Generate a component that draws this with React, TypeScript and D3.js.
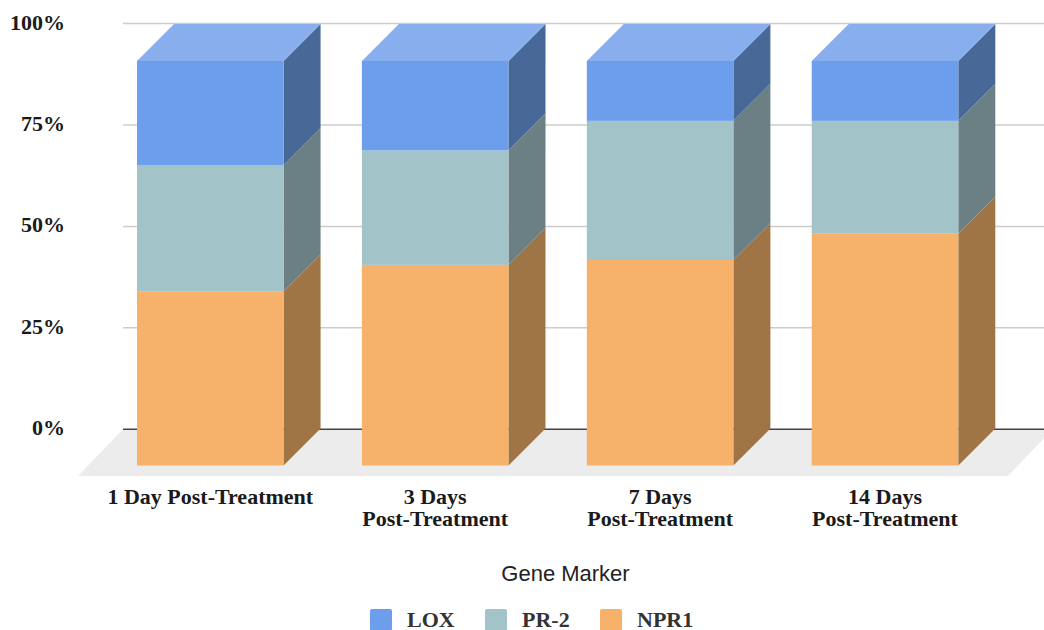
import React from "react";
import * as d3 from "d3";

const categories = [
  ["1 Day Post-Treatment"],
  ["3 Days", "Post-Treatment"],
  ["7 Days", "Post-Treatment"],
  ["14 Days", "Post-Treatment"],
];
const seriesNames = ["NPR1", "PR-2", "LOX"];
const NPR1 = [43.1, 49.6, 50.8, 57.3];
const PR2 = [31.2, 28.3, 34.4, 27.9];
const LOX = [25.7, 22.1, 14.8, 14.8];
const yTicks = [0, 25, 50, 75, 100];
const legendOrder = ["LOX", "PR-2", "NPR1"];

const front: Record<string, string> = { LOX: "#6d9eeb", "PR-2": "#a2c4c9", NPR1: "#f6b26b" };
const side: Record<string, string> = { LOX: "#486898", "PR-2": "#6a8084", NPR1: "#a07546" };
const topColor = "#89aeee";
const serif = "'Liberation Serif', serif";
const sans = "'Liberation Sans', sans-serif";
const depth = 37;

export default function App() {
  const y = d3.scaleLinear().domain([0, 100]).range([465.5, 61]);
  const yBack = d3.scaleLinear().domain([0, 100]).range([429.3, 23.5]);
  const x = d3
    .scaleBand<number>()
    .domain(d3.range(categories.length))
    .range([137, 958.3])
    .paddingInner(78.3 / 224.8)
    .paddingOuter(0);
  const rows = categories.map((_, i) => ({ NPR1: NPR1[i], "PR-2": PR2[i], LOX: LOX[i] }));
  const stacked = d3.stack<any>().keys(seriesNames)(rows);
  const bw = x.bandwidth();
  const poly = (pts: number[][]) => pts.map((p) => p.join(",")).join(" ");

  return (
    <svg width={1044} height={630} style={{ position: "absolute", left: 0, top: 0 }}>
      <rect width={1044} height={630} fill="#fff" />
      <polygon
        points={poly([
          [123, yBack(0)],
          [1044, yBack(0)],
          [1044, yBack(0) + 9],
          [1008, 476],
          [78, 476],
        ])}
        fill="#ececec"
      />
      {yTicks.map((t) => (
        <g key={t}>
          <line
            x1={123}
            x2={1044}
            y1={yBack(t)}
            y2={yBack(t)}
            stroke={t === 0 ? "#444" : "#ccc"}
            strokeWidth={1.5}
          />
          <text
            x={65}
            y={yBack(t) + 6}
            textAnchor="end"
            fontFamily={serif}
            fontWeight="bold"
            fontSize={22}
            fill="#1a1a1a"
          >
            {t}%
          </text>
        </g>
      ))}
      {stacked.map((s) =>
        s.map((d, i) => {
          const x0 = x(i)!;
          const x1 = x0 + bw;
          return (
            <g key={s.key + i}>
              <polygon
                points={poly([
                  [x1, y(d[0])],
                  [x1 + depth, y(d[0]) - depth],
                  [x1 + depth, y(d[1]) - depth],
                  [x1, y(d[1])],
                ])}
                fill={side[s.key]}
              />
              <rect x={x0} y={y(d[1])} width={bw} height={y(d[0]) - y(d[1])} fill={front[s.key]} />
              {s.key === "LOX" && (
                <polygon
                  points={poly([
                    [x0, y(d[1])],
                    [x1, y(d[1])],
                    [x1 + depth, y(d[1]) - depth],
                    [x0 + depth, y(d[1]) - depth],
                  ])}
                  fill={topColor}
                />
              )}
            </g>
          );
        })
      )}
      {categories.map((lines, i) => (
        <text
          key={i}
          textAnchor="middle"
          fontFamily={serif}
          fontWeight="bold"
          fontSize={22}
          fill="#1a1a1a"
        >
          {lines.map((l, j) => (
            <tspan key={j} x={x(i)! + bw / 2} y={503.5 + j * 22}>
              {l}
            </tspan>
          ))}
        </text>
      ))}
      <text x={565.5} y={581} textAnchor="middle" fontFamily={sans} fontSize={22} fill="#222">
        Gene Marker
      </text>
      {legendOrder.map((name, i) => {
        const lx = 370 + i * 115;
        return (
          <g key={name}>
            <rect x={lx} y={609} width={22} height={22} rx={2} fill={front[name]} />
            <text x={lx + 37} y={627} fontFamily={serif} fontWeight="bold" fontSize={22} fill="#333">
              {name}
            </text>
          </g>
        );
      })}
    </svg>
  );
}
